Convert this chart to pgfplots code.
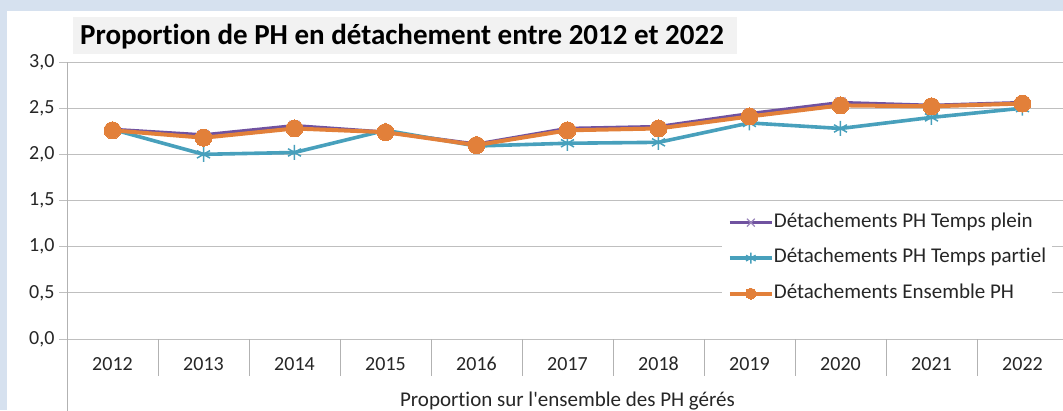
\documentclass[border=0pt]{standalone}
\usepackage{pgfplots}
\pgfplotsset{compat=1.18}
\usepackage{pgfplotstable}
\usepackage{fontspec}
\setmainfont[Ligatures={NoCommon}]{Carlito}
\definecolor{bgblue}{RGB}{214,225,239}
\definecolor{titlegray}{RGB}{242,242,242}
\definecolor{tpplein}{RGB}{112,82,160}
\definecolor{tppartiel}{RGB}{72,160,188}
\definecolor{ensemble}{RGB}{226,128,58}

\pgfplotstableread{
x plein partiel ensemble
0  2.27 2.27 2.26
1  2.21 2.00 2.18
2  2.31 2.02 2.28
3  2.24 2.26 2.24
4  2.11 2.09 2.10
5  2.28 2.12 2.26
6  2.30 2.13 2.28
7  2.44 2.34 2.41
8  2.56 2.28 2.53
9  2.53 2.40 2.52
10 2.56 2.50 2.55
}\data

\begin{document}
\begin{tikzpicture}[x=1pt,y=1pt]
\useasboundingbox (0,0) rectangle (1063,410);
\fill[bgblue] (0,0) rectangle (1063,410);
\fill[white] (7,0) rectangle (1063,399);
\fill[titlegray] (73,356) rectangle (737,393);
\node[anchor=base west, inner sep=0pt, font=\fontsize{29}{32}\selectfont\bfseries] at (80,365)
  {Proportion de PH en détachement entre 2012 et 2022};

\begin{axis}[
  at={(67pt,71pt)}, anchor=south west,
  scale only axis, width=1001pt, height=277pt,
  xmin=-0.5, xmax=10.5, ymin=0, ymax=3,
  axis x line=none,
  axis y line*=left,
  y axis line style={black!30, -},
  clip=false,
  ytick={0,0.5,...,3},
  ymajorgrids, grid style={black!25, line width=0.8pt},
  ytick style={black!25, line width=0.8pt},
  tick align=outside, major tick length=8pt,
  /pgf/number format/use comma,
  /pgf/number format/fixed,
  /pgf/number format/fixed zerofill,
  /pgf/number format/precision=1,
  /pgf/number format/assume math mode=true,
  ticklabel style={font=\fontsize{20}{24}\selectfont, text=black!85},
  yticklabel style={xshift=-1pt},
  legend style={at={(0.654,0.466)}, anchor=north west, draw=none, fill=white,
    font=\fontsize{21}{24}\selectfont, text=black!85,
    inner xsep=6pt, inner ysep=4pt, row sep=18.5pt,
    nodes={inner sep=0pt, text height=13pt, text depth=4pt}},
  legend cell align=left,
  legend image code/.code={
    \draw[#1, mark repeat=2, mark phase=2, mark size=5.5pt] plot coordinates {(0pt,0pt) (21pt,0pt) (42pt,0pt)};
  },
  /tikz/every even column/.append style={column sep=8pt},
]
\addplot[tpplein, line width=3.5pt, mark=x, mark size=7pt,
  mark options={tpplein!70, line width=1.3pt}] table[x=x, y=plein] {\data};
\addlegendentry{Détachements PH Temps plein}
\addplot[tppartiel, line width=3.6pt, mark=asterisk, mark size=7.5pt,
  mark options={tppartiel, line width=1.5pt}] table[x=x, y=partiel] {\data};
\addlegendentry{Détachements PH Temps partiel}
\addplot[ensemble, line width=4pt, mark=*, mark size=8.5pt,
  mark options={ensemble, fill=ensemble, line width=0pt}] table[x=x, y=ensemble] {\data};
\addlegendentry{Détachements Ensemble PH}

% category table below the axis
\draw[black!30, line width=0.8pt] (rel axis cs:0,1) -- ([yshift=-80pt]rel axis cs:0,0);
\pgfplotsinvokeforeach{0,...,9}{
  \draw[black!30, line width=0.8pt] (axis cs:#1+0.5,0) -- ([yshift=-37pt]axis cs:#1+0.5,0);
}
\pgfplotsinvokeforeach{2012,...,2022}{
  \node[anchor=base, inner sep=0pt, font=\fontsize{20}{24}\selectfont, text=black!85]
    at ([yshift=-31pt]axis cs:#1-2012,0) {#1};
}
\node[anchor=base, inner sep=0pt, font=\fontsize{21}{24}\selectfont, text=black!85]
  at ([yshift=-67pt]axis cs:5,0) {Proportion sur l\textquotesingle ensemble des PH gérés};
\end{axis}
\end{tikzpicture}
\end{document}
